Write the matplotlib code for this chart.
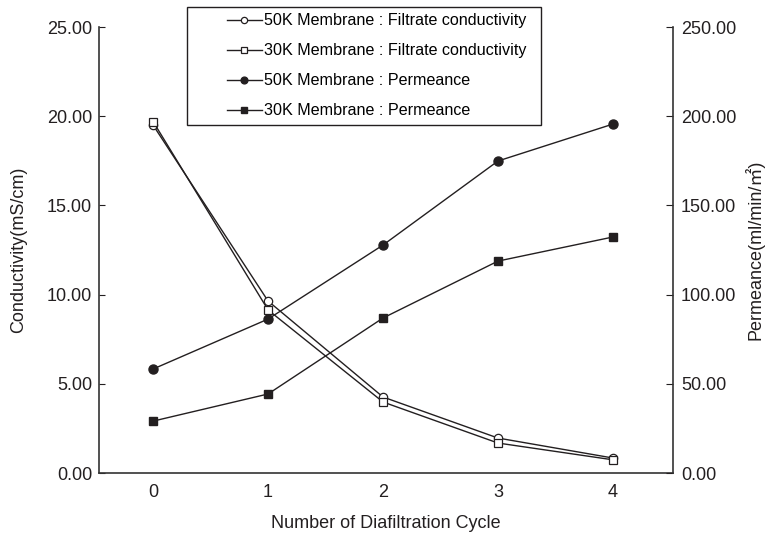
import matplotlib
matplotlib.use("Agg")
import matplotlib.pyplot as plt
from matplotlib.patches import Rectangle

plt.rcParams['font.family'] = ['Liberation Sans', 'Noto Sans CJK JP', 'DejaVu Sans']

cycles = [0, 1, 2, 3, 4]
cond_50k = [19.5, 9.64, 4.26, 1.96, 0.84]
cond_30k = [19.7, 9.14, 3.98, 1.68, 0.74]
perm_50k = [58.3, 86.3, 127.8, 174.9, 195.6]
perm_30k = [29.1, 44.3, 86.9, 118.8, 132.3]

fig = plt.figure(figsize=(7.68, 5.36), dpi=100)
ax = fig.add_axes([0.129, 0.1175, 0.747, 0.8321])
ax2 = ax.twinx()

c = '#231f20'
l1, = ax.plot(cycles, cond_50k, '-o', color=c, lw=1, ms=6, mfc='white', mec=c, mew=0.9,
              label='50K Membrane : Filtrate conductivity')
l2, = ax.plot(cycles, cond_30k, '-s', color=c, lw=1, ms=6, mfc='white', mec=c, mew=0.9,
              label='30K Membrane : Filtrate conductivity')
l3, = ax2.plot(cycles, perm_50k, '-o', color=c, lw=1, ms=6.5,
               label='50K Membrane : Permeance')
l4, = ax2.plot(cycles, perm_30k, '-s', color=c, lw=1, ms=6,
               label='30K Membrane : Permeance')

ax.set_xlim(-0.47, 4.52)
ax.set_ylim(0, 25)
ax2.set_ylim(0, 250)
ax.set_xticks(cycles)
ax.set_yticks([0, 5, 10, 15, 20, 25])
ax.set_yticklabels(['%.2f' % v for v in [0, 5, 10, 15, 20, 25]])
ax2.set_yticks([0, 50, 100, 150, 200, 250])
ax2.set_yticklabels(['%.2f' % v for v in [0, 50, 100, 150, 200, 250]])

for a in (ax, ax2):
    a.spines['top'].set_visible(False)
    for s in a.spines.values():
        s.set_color('#333333')
        s.set_linewidth(1.2)
ax.spines['right'].set_visible(False)
ax2.spines['left'].set_visible(False)
ax2.spines['bottom'].set_visible(False)

ax.tick_params(axis='y', direction='in', length=4, labelsize=13, colors=c, pad=5)
ax.tick_params(axis='x', length=0, labelsize=13, colors=c, pad=8)
ax2.tick_params(axis='y', direction='in', length=5, labelsize=13, colors=c, pad=6)

ax.set_xlabel('Number of Diafiltration Cycle', fontsize=13, color=c, labelpad=10)
ax.set_ylabel('Conductivity(mS/cm)', fontsize=13, color=c, labelpad=14)
ax2.set_ylabel('Permeance(ml/min/㎡)', fontsize=13, color=c, labelpad=6)

# legend box is drawn separately, text sits well inside it
fig.add_artist(Rectangle((0.2435, 0.7668), 0.4609, 0.2202, transform=fig.transFigure,
                         fill=False, edgecolor=c, linewidth=1.0))
leg = fig.legend(handles=[l1, l2, l3, l4], loc='upper left', bbox_to_anchor=(0.295, 0.975),
                 fontsize=11.6, frameon=False, markerscale=0.75,
                 handlelength=2.2, handletextpad=0.1, borderpad=0, labelspacing=0.93,
                 borderaxespad=0)

fig.savefig('out.png', dpi=100)
